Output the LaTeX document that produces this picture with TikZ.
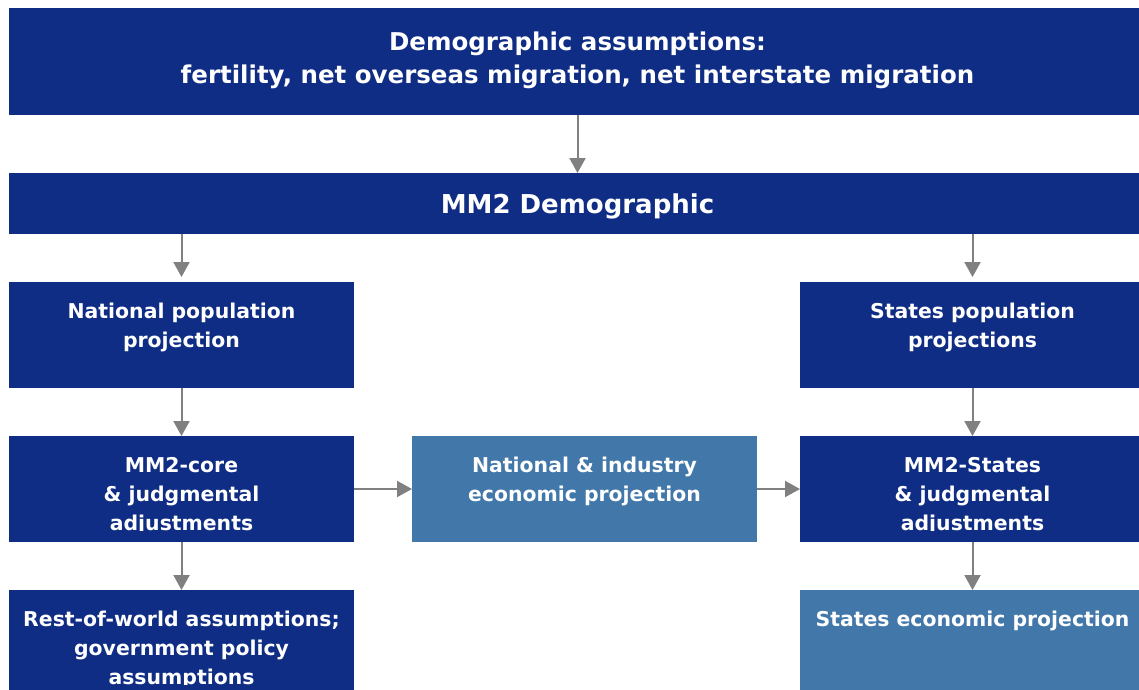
\documentclass[tikz,border=0pt]{standalone}
\usepackage{fontspec}
\setmainfont{DejaVu Sans}
\usetikzlibrary{arrows.meta,calc}
\definecolor{darkblue}{HTML}{0F2D84}
\definecolor{lightblue}{HTML}{4177A9}
\definecolor{arrgray}{HTML}{808080}
\newcommand{\smallfont}{\fontsize{20.4pt}{29pt}\selectfont\bfseries}
\newcommand{\bigfont}{\fontsize{24.5pt}{33.5pt}\selectfont\bfseries}
\begin{document}
\begin{tikzpicture}[x=1pt,y=-1pt,
  box/.style={inner sep=0pt, outer sep=0pt, anchor=north west, draw=none},
  darkbox/.style={box, fill=darkblue},
  lightbox/.style={box, fill=lightblue},
  smallbox/.style={minimum width=345pt, minimum height=106pt},
  txt/.style={inner sep=0pt, outer sep=0pt, anchor=base, text=white, align=center},
  arr/.style={draw=arrgray, line width=2pt, -{Triangle[width=16pt,length=15pt]}}
]
\useasboundingbox (0,0) rectangle (1139,689);
\clip (0,0) rectangle (1139,689);
\fill[white] (0,0) rectangle (1139,689);

% boxes
\node[darkbox, minimum width=1137pt, minimum height=107pt] (top) at (9,8) {};
\node[darkbox, minimum width=1137pt, minimum height=61pt] (demo) at (9,173) {};
\node[darkbox, smallbox] (natpop) at (9,282) {};
\node[darkbox, smallbox] (statepop) at (800,282) {};
\node[darkbox, smallbox] (core) at (9,436) {};
\node[lightbox, smallbox] (natind) at (412,436) {};
\node[darkbox, smallbox] (mmstates) at (800,436) {};
\node[darkbox, smallbox] (row) at (9,590) {};
\node[lightbox, smallbox] (stateecon) at (800,590) {};

% texts
\node[txt, font=\bigfont] (top-t) at ($(top.north)+(0,42)$)
  {\begin{tabular}[t]{@{}c@{}}Demographic assumptions:\\fertility, net overseas migration, net interstate migration\end{tabular}};
\node[txt, font=\fontsize{26pt}{30pt}\selectfont\bfseries] (demo-t) at ($(demo.north)+(0,40.5)$) {MM2 Demographic};

\begin{scope}
\clip (natpop.north west) rectangle ($(natpop.north east)+(0,94)$);
\node[txt, font=\smallfont] (natpop-t) at ($(natpop.north)+(0,36.5)$)
  {\begin{tabular}[t]{@{}c@{}}National population\\projection\end{tabular}};
\end{scope}
\begin{scope}
\clip (statepop.north west) rectangle ($(statepop.north east)+(0,94)$);
\node[txt, font=\smallfont] (statepop-t) at ($(statepop.north)+(0,36.5)$)
  {\begin{tabular}[t]{@{}c@{}}States population\\projections\end{tabular}};
\end{scope}
\begin{scope}
\clip (core.north west) rectangle ($(core.north east)+(0,94)$);
\node[txt, font=\smallfont] (core-t) at ($(core.north)+(0,36.3)$)
  {\begin{tabular}[t]{@{}c@{}}MM2-core\\\& judgmental\\adjustments\end{tabular}};
\end{scope}
\begin{scope}
\clip (natind.north west) rectangle ($(natind.north east)+(0,94)$);
\node[txt, font=\smallfont] (natind-t) at ($(natind.north)+(0,36.3)$)
  {\begin{tabular}[t]{@{}c@{}}National \& industry\\economic projection\end{tabular}};
\end{scope}
\begin{scope}
\clip (mmstates.north west) rectangle ($(mmstates.north east)+(0,94)$);
\node[txt, font=\smallfont] (mmstates-t) at ($(mmstates.north)+(0,36.3)$)
  {\begin{tabular}[t]{@{}c@{}}MM2-States\\\& judgmental\\adjustments\end{tabular}};
\end{scope}
\begin{scope}
\clip (row.north west) rectangle ($(row.north east)+(0,94)$);
\node[txt, font=\smallfont] (row-t) at ($(row.north)+(0,36.3)$)
  {\begin{tabular}[t]{@{}c@{}}Rest-of-world assumptions;\\government policy\\assumptions\end{tabular}};
\end{scope}
\begin{scope}
\clip (stateecon.north west) rectangle ($(stateecon.north east)+(0,94)$);
\node[txt, font=\smallfont] (stateecon-t) at ($(stateecon.north)+(0,36.3)$)
  {States economic projection};
\end{scope}

% arrows
\draw[arr] (top.south) -- (demo.north);
\draw[arr, shorten >=5pt] (natpop.north |- demo.south) -- (natpop.north);
\draw[arr, shorten >=5pt] (statepop.north |- demo.south) -- (statepop.north);
\draw[arr] (natpop.south) -- (core.north);
\draw[arr] (statepop.south) -- (mmstates.north);
\draw[arr] (core.east) -- (natind.west);
\draw[arr] (natind.east) -- (mmstates.west);
\draw[arr] (core.south) -- (row.north);
\draw[arr] (mmstates.south) -- (stateecon.north);
\end{tikzpicture}
\end{document}
